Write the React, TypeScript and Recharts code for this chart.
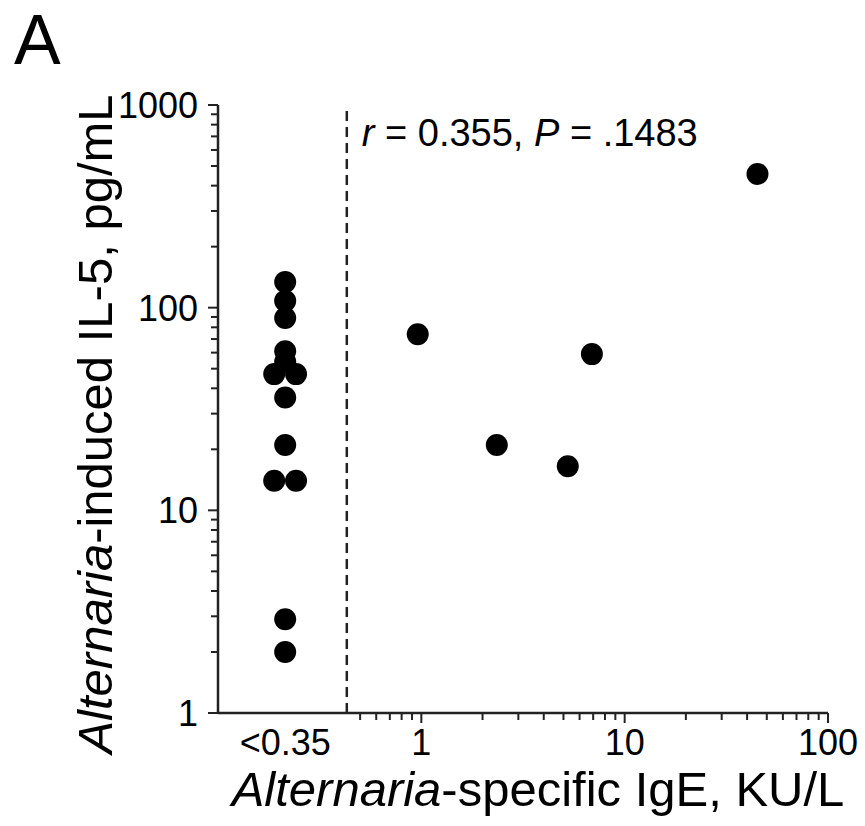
import { ReferenceLine, Scatter, ScatterChart, XAxis, YAxis } from 'recharts';

// column used for the "<0.35" group (drawn left of the dashed cut-off)
const belowIgE = [0.214, 0.214, 0.214, 0.214, 0.214, 0.189, 0.242, 0.214, 0.214, 0.189, 0.242, 0.214, 0.214];
const belowIL5 = [134, 108, 89, 61, 54, 47, 47, 36, 21, 14, 14, 2.9, 2.0];

const posIgE = [0.96, 2.35, 5.25, 6.9, 45];
const posIL5 = [74, 21, 16.5, 59, 457];

const cutoff = 0.43;
const xMajor = [1, 10, 100];
const xMinor = [0.5, 0.6, 0.7, 0.8, 0.9, 2, 3, 4, 5, 6, 7, 8, 9, 20, 30, 40, 50, 60, 70, 80, 90];
const belowLabelAt = 0.214;
const yMajor = [1, 10, 100, 1000];
const yMinor = [2, 3, 4, 5, 6, 7, 8, 9, 20, 30, 40, 50, 60, 70, 80, 90, 200, 300, 400, 500, 600, 700, 800, 900];

const FONT = '"Liberation Sans", Arial, Helvetica, sans-serif';
const INK = '#222';

const points = [
  ...belowIgE.map((x, i) => ({ x, y: belowIL5[i] })),
  ...posIgE.map((x, i) => ({ x, y: posIL5[i] })),
];

const Dot = (props: any) => <circle cx={props.cx} cy={props.cy} r={11} fill="#000" />;

const XTick = (props: any) => {
  const { x, y, payload } = props;
  const v = payload.value;
  if (v === belowLabelAt) {
    return (
      <text x={x} y={y + 42} textAnchor="middle" fontFamily={FONT} fontSize={36} fill="#000">
        {'<0.35'}
      </text>
    );
  }
  const major = xMajor.includes(v);
  return (
    <g>
      <line x1={x} x2={x} y1={y} y2={y + (major ? 10 : 7)} stroke={INK} strokeWidth={2} />
      {major && (
        <text x={x} y={y + 42} textAnchor="middle" fontFamily={FONT} fontSize={36} fill="#000">
          {v}
        </text>
      )}
    </g>
  );
};

const YTick = (props: any) => {
  const { x, y, payload } = props;
  const v = payload.value;
  const major = yMajor.includes(v);
  return (
    <g>
      <line x1={x - (major ? 10 : 7)} x2={x} y1={y} y2={y} stroke={INK} strokeWidth={2} />
      {major && (
        <text x={x - 20} y={y} dy="0.36em" textAnchor="end" fontFamily={FONT} fontSize={36} fill="#000">
          {v}
        </text>
      )}
    </g>
  );
};

const StatLabel = (props: any) => {
  const vb = props.viewBox || {};
  return (
    <text x={(vb.x ?? 0) + 15} y={146} fontFamily={FONT} fontSize={38} fill="#000">
      <tspan fontStyle="italic">r</tspan>
      {' = 0.355, '}
      <tspan fontStyle="italic">P</tspan>
      {' = .1483'}
    </text>
  );
};

export default function App() {
  return (
    <div style={{ position: 'absolute', left: 0, top: 0, width: 865, height: 826, background: '#fff' }}>
      <ScatterChart width={865} height={826} margin={{ top: 105, right: 37, left: 0, bottom: 0 }}>
        <XAxis
          type="number"
          dataKey="x"
          scale="log"
          domain={[0.1, 100]}
          allowDataOverflow
          ticks={[belowLabelAt, ...xMinor, ...xMajor]}
          interval={0}
          tick={<XTick />}
          tickLine={false}
          tickSize={0}
          tickMargin={0}
          height={113}
          axisLine={{ stroke: INK, strokeWidth: 2.5 }}
        />
        <YAxis
          type="number"
          dataKey="y"
          scale="log"
          domain={[1, 1000]}
          allowDataOverflow
          ticks={[...yMinor, ...yMajor]}
          interval={0}
          tick={<YTick />}
          tickLine={false}
          tickSize={0}
          tickMargin={0}
          width={218}
          axisLine={{ stroke: INK, strokeWidth: 2.5 }}
        />
        <ReferenceLine x={cutoff} stroke={INK} strokeWidth={2.5} strokeDasharray="10 6" label={<StatLabel />} />
        <Scatter data={points} shape={<Dot />} isAnimationActive={false} />
        <text x={14} y={64} fontFamily={FONT} fontSize={70} fill="#000">
          A
        </text>
        <text x={538} y={806} textAnchor="middle" fontFamily={FONT} fontSize={49} fill="#000">
          <tspan fontStyle="italic">Alternaria</tspan>-specific IgE, KU/L
        </text>
        <text
          transform="translate(112, 424) rotate(-90)"
          textAnchor="middle"
          fontFamily={FONT}
          fontSize={49}
          fill="#000"
        >
          <tspan fontStyle="italic">Alternaria</tspan>-induced IL-5, pg/mL
        </text>
      </ScatterChart>
    </div>
  );
}
